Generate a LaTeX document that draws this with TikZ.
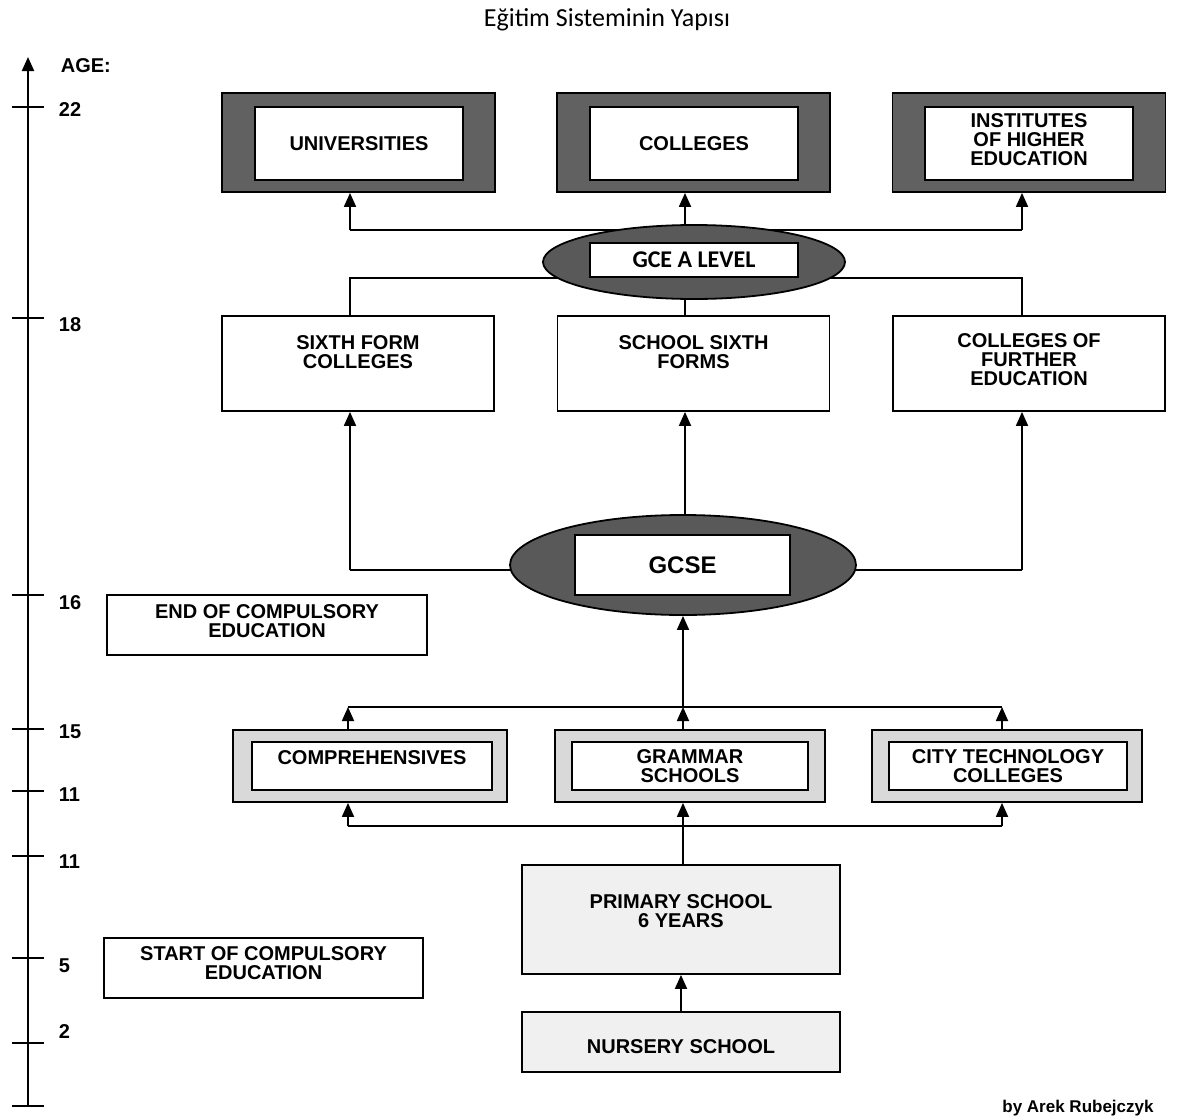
\documentclass[tikz,border=0pt]{standalone}
\usepackage{fontspec}
\setmainfont{Liberation Sans}
\newfontfamily\titlefont{Carlito}
\usetikzlibrary{arrows.meta,shapes.geometric,backgrounds}

\tikzset{
  lbl/.style={font=\fontsize{10}{9.5}\selectfont\bfseries, align=center},
  axlbl/.style={font=\fontsize{10}{11}\selectfont\bfseries, anchor=west, inner sep=0pt},
  plainbox/.style={lbl, draw, fill=white, inner sep=0pt},
  topframe/.style={draw, fill=black!62, minimum width=136.5pt, minimum height=49.5pt},
  topinner/.style={plainbox, minimum width=104pt, minimum height=36.5pt},
  midbox/.style={plainbox, minimum width=136pt, minimum height=47.5pt},
  rowframe/.style={draw, fill=black!15, minimum height=36pt},
  rowinner/.style={plainbox, line width=1.2pt, minimum height=24pt},
  softbox/.style={plainbox, fill=black!6, minimum width=159pt},
  oval/.style={ellipse, draw, fill=black!65, inner sep=0pt},
  lift/.style={text depth=#1}
}

\begin{document}
\begin{tikzpicture}[x=0.5pt, y=-0.5pt, line width=0.9pt,
    >={Triangle[length=7pt,width=6pt]}]
  \useasboundingbox (0,0) rectangle (1194,1119);

  \node[font=\titlefont\fontsize{13}{15}\selectfont] (title) at (607,20) {Eğitim Sisteminin Yapısı};

  % age scale
  \coordinate (axbot) at (28,1106);
  \coordinate (axtop) at (28,57);
  \draw[->, line width=1.1pt] (axbot) -- (axtop);
  \draw (12,1106) -- (44,1106);
  \node[axlbl] (age) at (60,66) {AGE:};
  \foreach \yy/\aa/\ly [count=\i] in {107/22/110, 318/18/325, 595/16/603, 729/15/732,
      791/11/795, 856/11/862, 958/5/966, 1043/2/1032} {
    \draw (12,\yy) -- (44,\yy);
    \node[axlbl] (age\i) at (58,\ly) {\aa};
  }

  % higher education
  \node[topframe] (uni) at (358.5,142.5) {};
  \node[topinner] (uniin) at (359,143.5) {UNIVERSITIES};
  \node[topframe] (col) at (693.5,142.5) {};
  \node[topinner] (colin) at (694,143.5) {COLLEGES};
  \node[topframe] (inst) at (1029,142.5) {};
  \node[topinner, lift=4pt] (instin) at (1029,143.5) {INSTITUTES\\OF HIGHER\\EDUCATION};

  \node[oval, minimum width=151pt, minimum height=37pt] (gce) at (694,262) {};
  \node[plainbox, font=\titlefont\fontsize{12}{13}\selectfont\bfseries,
    minimum width=104pt, minimum height=17pt] (gcein) at (694,260) {GCE A LEVEL};

  % sixth forms
  \node[midbox, lift=11pt] (sixth) at (358,363.5) {SIXTH FORM\\COLLEGES};
  \node[midbox, lift=11pt] (school) at (693.5,363.5) {SCHOOL SIXTH\\FORMS};
  \node[midbox, lift=3.5pt] (further) at (1029,363.5) {COLLEGES OF\\FURTHER\\EDUCATION};

  \node[oval, minimum width=173pt, minimum height=50pt] (gcse) at (683,565) {};
  \node[plainbox, font=\fontsize{12}{13}\selectfont\bfseries,
    minimum width=107.5pt, minimum height=30pt] (gcsein) at (682.5,565) {GCSE};

  \node[plainbox, minimum width=160pt, minimum height=30pt, lift=3.5pt] (endce) at (267,625) {END OF COMPULSORY\\EDUCATION};

  % secondary schools
  \node[rowframe, minimum width=137pt] (comp) at (370,766) {};
  \node[rowinner, minimum width=120pt, lift=8pt] (compin) at (372,766) {COMPREHENSIVES};
  \node[rowframe, minimum width=135pt] (gram) at (690,766) {};
  \node[rowinner, minimum width=118pt] (gramin) at (690,766) {GRAMMAR\\SCHOOLS};
  \node[rowframe, minimum width=135pt] (city) at (1007,766) {};
  \node[rowinner, minimum width=119pt] (cityin) at (1008,766) {CITY TECHNOLOGY\\COLLEGES};

  % primary and nursery
  \node[softbox, minimum height=54.5pt, lift=8.5pt] (primary) at (681,919.5) {PRIMARY SCHOOL\\6 YEARS};
  \node[softbox, minimum height=30pt, text height=12pt] (nursery) at (681,1042) {NURSERY SCHOOL};
  \node[plainbox, minimum width=159.5pt, minimum height=30pt, lift=5pt] (startce) at (263.5,968) {START OF COMPULSORY\\EDUCATION};

  \node[font=\fontsize{8.5}{10}\selectfont\bfseries] (credit) at (1078,1108) {by Arek Rubejczyk};

  \begin{scope}[on background layer, every path/.style={line width=0.9pt}]
    % A level -> higher education
    \coordinate (hl) at (350,230);
    \coordinate (hm) at (685,230);
    \coordinate (hr) at (1022,230);
    \draw (hl) -- (hr);
    \foreach \c/\b in {hl/uni, hm/col, hr/inst}
      \draw[->] (\c) -- (\c |- \b.south);
    % sixth forms -> A level
    \coordinate (sl) at (350,278);
    \coordinate (sr) at (1022,278);
    \draw (sixth.north -| sl) -- (sl) -- (sr) -- (further.north -| sr);
    \draw (hm) -- (school.north -| hm);
    % GCSE -> sixth forms
    \coordinate (gl) at (350,570);
    \coordinate (gr) at (1022,570);
    \draw (gl) -- (gr);
    \draw[->] (gl) -- (gl |- sixth.south);
    \draw[->] (gr) -- (gr |- further.south);
    \draw[->] (gcse.north -| hm) -- (school.south -| hm);
    % schools -> GCSE
    \coordinate (cl) at (348,707);
    \coordinate (cm) at (683,707);
    \coordinate (cr) at (1002,707);
    \draw (cl) -- (cr);
    \foreach \c/\b in {cl/comp, cm/gram, cr/city}
      \draw[->] (\c |- \b.north) -- (\c);
    \draw[->] (cm) -- (cm |- gcse.south);
    % primary -> schools
    \coordinate (pl) at (348,826);
    \coordinate (pr) at (1002,826);
    \draw (pl) -- (pr);
    \draw[->] (pl) -- (pl |- comp.south);
    \draw[->] (pr) -- (pr |- city.south);
    \draw[->] (primary.north -| cm) -- (cm |- gram.south);
    \draw[->] (nursery.north) -- (primary.south);
  \end{scope}
\end{tikzpicture}
\end{document}
